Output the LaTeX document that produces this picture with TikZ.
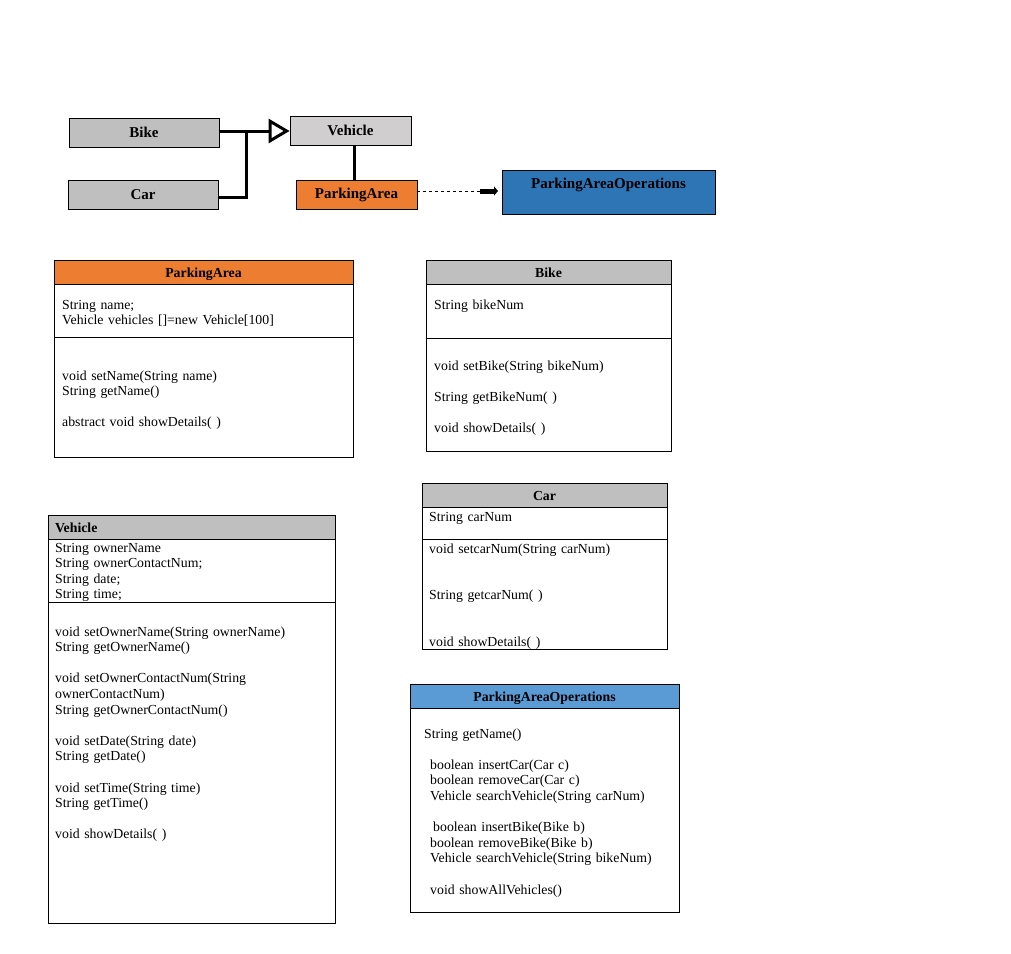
\documentclass[tikz,border=0pt]{standalone}
\usepackage{fontspec}
\setmainfont{Liberation Serif}
\usetikzlibrary{arrows.meta, positioning}
\definecolor{boxgray}{HTML}{BFBFBF}
\definecolor{vehgray}{HTML}{D0CECE}
\definecolor{paorange}{HTML}{ED7D31}
\definecolor{opsblue}{HTML}{2E75B6}
\definecolor{headblue}{HTML}{5B9BD5}

\begin{document}
\begin{tikzpicture}[x=1pt, y=-1pt]
	\tikzset{top/.style={draw, line width=0.8pt, inner sep=0pt, font=\fontsize{15}{18}\selectfont\bfseries},
		head/.style={draw, line width=0.8pt, anchor=north west, inner sep=0pt, outer sep=0pt, minimum height=24pt, text height=12pt, text depth=1pt, font=\fontsize{13.8}{16}\selectfont\bfseries},
		part/.style={draw, line width=0.8pt, anchor=north west, inner sep=0pt, outer sep=0pt},
		member/.style={anchor=base west, inner sep=0pt, text width=290pt, align=left, font=\fontsize{13.8}{15.6}\selectfont},
		link/.style={line width=3pt}}
	\useasboundingbox (0,0) rectangle (1011,953);

	% overview
	\node[top, fill=boxgray, minimum width=150pt, minimum height=29pt] (bike) at (144,132.5) {Bike};
	\node[top, fill=boxgray, minimum width=150pt, minimum height=29pt] (car) at (143,194.5) {Car};
	\node[top, fill=vehgray, minimum width=121pt, minimum height=29pt] (vehicle) at (350.5,130.5) {Vehicle};
	\node[top, fill=paorange, minimum width=121pt, minimum height=29pt] (area) at (356.5,194.5) {ParkingArea};
	\node[top, fill=opsblue, minimum width=213pt, text height=18pt, text depth=26pt] (ops) at (608.5,192) {ParkingAreaOperations};

	\coordinate (join) at (246,131);
	\coordinate (stub) at (480,191);
	\coordinate (tip) at (498,191);
	\draw[link, -{Triangle[open, length=21pt, width=24pt]}] (bike.east |- join) -- (vehicle.west |- join);
	\draw[link] (car.east |- 0,197) -| (join);
	\draw[link] (area.north -| 354,0) -- (vehicle.south -| 354,0);
	\draw[dashed, line width=0.8pt] (area.east |- stub) -- (stub);
	\draw[line width=5pt, -{Triangle[length=4pt, width=9pt]}] (stub) -- (tip);

	% ParkingArea
	\node[head, fill=paorange, minimum width=299pt] (pa-head) at (54,260) {ParkingArea};
	\node[part, minimum width=299pt, minimum height=53pt] (pa-attr) at (pa-head.south west) {};
	\node[part, minimum width=299pt, minimum height=120pt] (pa-meth) at (pa-attr.south west) {};
	\node[member] (pa-attr-t) at ([shift={(8,25)}]pa-attr.north west) {String name;\\Vehicle vehicles []=new Vehicle[100]};
	\node[member] (pa-meth-t) at ([shift={(8,43)}]pa-meth.north west) {void setName(String name)\\String getName()\\[15.6pt]abstract void showDetails( )};

	% Bike
	\node[head, fill=boxgray, minimum width=245pt] (bk-head) at (426,260) {Bike};
	\node[part, minimum width=245pt, minimum height=54pt] (bk-attr) at (bk-head.south west) {};
	\node[part, minimum width=245pt, minimum height=113pt] (bk-meth) at (bk-attr.south west) {};
	\node[member] (bk-attr-t) at ([shift={(8,25)}]bk-attr.north west) {String bikeNum};
	\node[member] (bk-meth-t) at ([shift={(8,32)}]bk-meth.north west) {void setBike(String bikeNum)\\[15.6pt]String getBikeNum( )\\[15.6pt]void showDetails( )};

	% Car
	\node[head, fill=boxgray, minimum width=245pt] (cr-head) at (422,483) {Car};
	\node[part, minimum width=245pt, minimum height=32pt] (cr-attr) at (cr-head.south west) {};
	\node[part, minimum width=245pt, minimum height=110pt] (cr-meth) at (cr-attr.south west) {};
	\node[member] (cr-attr-t) at ([shift={(7,14)}]cr-attr.north west) {String carNum};
	\node[member] (cr-meth-t) at ([shift={(7,14)}]cr-meth.north west) {void setcarNum(String carNum)\\[31pt]String getcarNum( )\\[31pt]void showDetails( )};

	% Vehicle
	\node[head, fill=boxgray, minimum width=287pt, text width=273pt, inner xsep=7pt, align=left] (vh-head) at (48,515) {Vehicle};
	\node[part, minimum width=287pt, minimum height=63pt] (vh-attr) at (vh-head.south west) {};
	\node[part, minimum width=287pt, minimum height=321pt] (vh-meth) at (vh-attr.south west) {};
	\node[member] (vh-attr-t) at ([shift={(7,13)}]vh-attr.north west) {String ownerName\\String ownerContactNum;\\String date;\\String time;};
	\node[member] (vh-meth-t) at ([shift={(7,34)}]vh-meth.north west) {void setOwnerName(String ownerName)\\String getOwnerName()\\[15.6pt]void setOwnerContactNum(String\\ownerContactNum)\\String getOwnerContactNum()\\[15.6pt]void setDate(String date)\\String getDate()\\[15.6pt]void setTime(String time)\\String getTime()\\[15.6pt]void showDetails( )};

	% ParkingAreaOperations
	\node[head, fill=headblue, minimum width=269pt] (op-head) at (410,684) {ParkingAreaOperations};
	\node[part, minimum width=269pt, minimum height=204pt] (op-body) at (op-head.south west) {};
	\node[member] (op-body-t) at ([shift={(14,30)}]op-body.north west) {String getName()\\[15.6pt]
		\hspace*{6pt}boolean insertCar(Car c)\\\hspace*{6pt}boolean removeCar(Car c)\\\hspace*{6pt}Vehicle searchVehicle(String carNum)\\[15.6pt]
		\hspace*{9pt}boolean insertBike(Bike b)\\\hspace*{6pt}boolean removeBike(Bike b)\\\hspace*{6pt}Vehicle searchVehicle(String bikeNum)\\[15.6pt]
		\hspace*{6pt}void showAllVehicles()};
\end{tikzpicture}
\end{document}
